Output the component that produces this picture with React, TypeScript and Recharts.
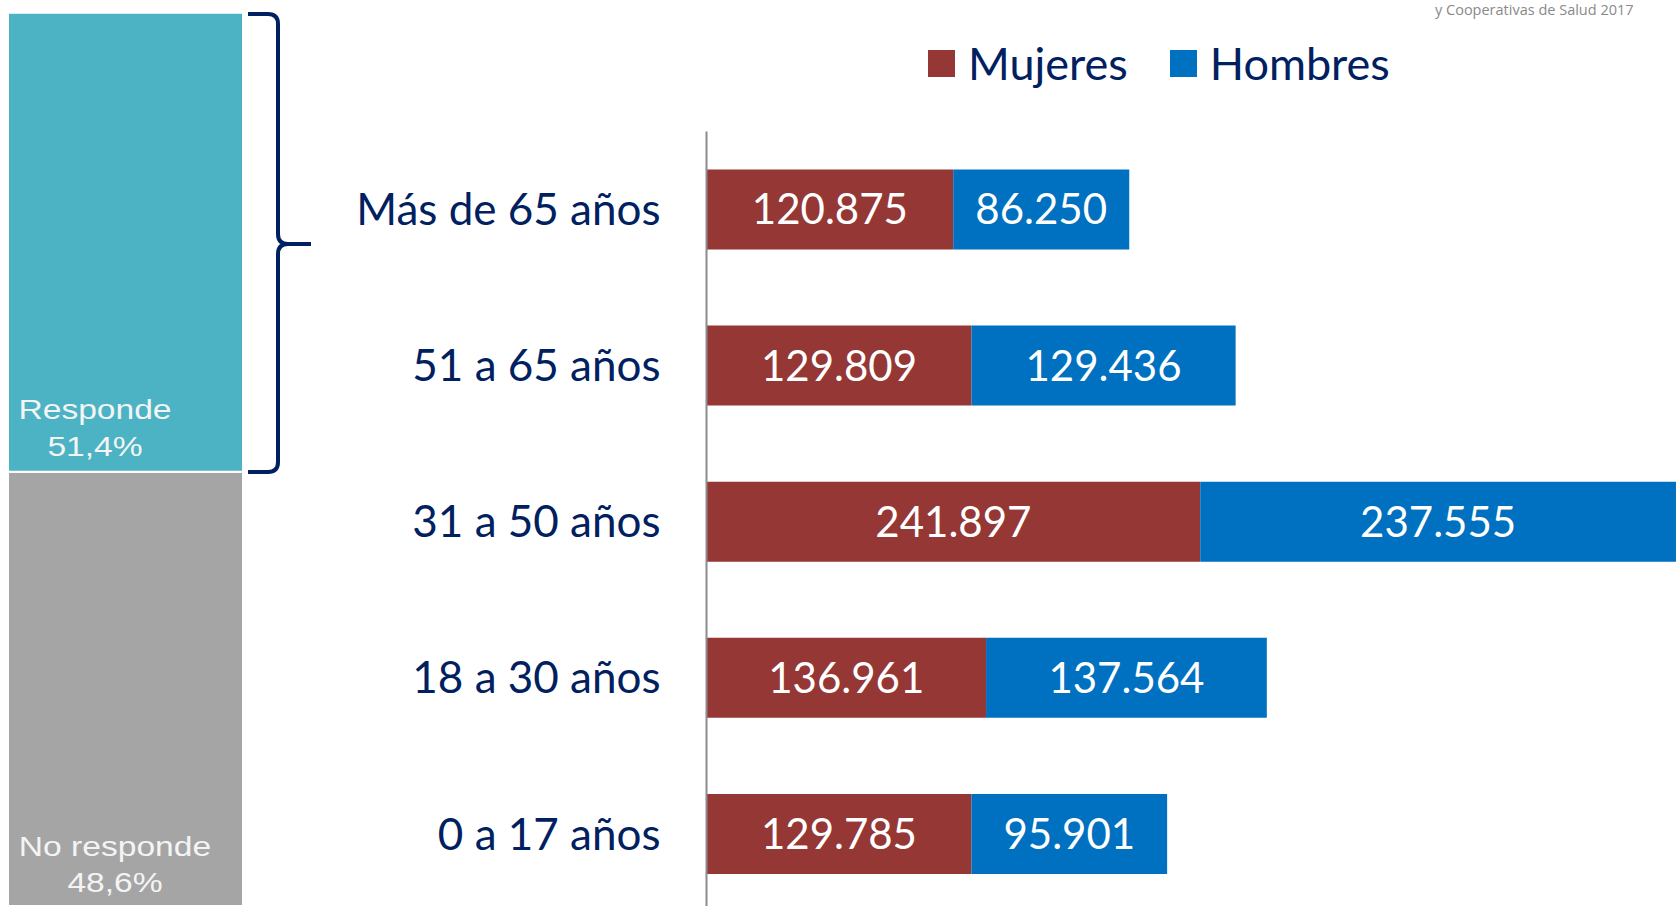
import React from 'react';
import { BarChart, Bar, XAxis, YAxis, LabelList, Legend } from 'recharts';

// ---- data ----
const AGE_GROUPS = ['Más de 65 años', '51 a 65 años', '31 a 50 años', '18 a 30 años', '0 a 17 años'];
const MUJERES = [120875, 129809, 241897, 136961, 129785];
const HOMBRES = [86250, 129436, 237555, 137564, 95901];
const SERIES_NAMES = ['Mujeres', 'Hombres'];
const RESPONSE_LABELS = ['Responde', 'No responde'];
const RESPONSE_SHARE = [51.4, 48.6];
const CAPTION = 'y Cooperativas de Salud 2017';

// ---- style ----
const NAVY = '#002060';
const RED = '#953735';
const BLUE = '#0070C0';
const TEAL = '#4BB3C3';
const GRAY = '#A5A5A5';
const FONT = 'Lato, "Open Sans", sans-serif';
const X_MAX = 475000;

const rows = AGE_GROUPS.map((age, i) => ({ age, mujeres: MUJERES[i], hombres: HOMBRES[i] }));
const leftRows = [{ name: 'total', responde: RESPONSE_SHARE[0], noResponde: RESPONSE_SHARE[1] }];

const fmt = (v: any) => String(v).replace(/\B(?=(\d{3})+(?!\d))/g, '.');
const pct = (v: number) => String(v).replace('.', ',') + '%';

const makeStackLabel = (title: string, share: number, dxCenter: number, b1: number, b2: number) => (props: any) => {
  const { x, y, height } = props;
  const bottom = Number(y) + Number(height);
  const cx = Number(x) + dxCenter;
  return (
    <g transform={`translate(${cx},0) scale(1.2,1)`}>
      <text x={0} y={bottom - b1} textAnchor="middle" fill="#f4f4f4" fontSize={28} fontFamily='"Liberation Sans", Arial, sans-serif'>
        {title}
      </text>
      <text x={0} y={bottom - b2} textAnchor="middle" fill="#f4f4f4" fontSize={28} fontFamily='"Liberation Sans", Arial, sans-serif'>
        {pct(share)}
      </text>
    </g>
  );
};

const LegendContent = (props: any) => {
  const payload = [...(props.payload || [])].sort(
    (a: any, b: any) => SERIES_NAMES.indexOf(a.value) - SERIES_NAMES.indexOf(b.value)
  );
  return (
    <div style={{ display: 'flex', alignItems: 'center', fontFamily: FONT, fontSize: 45, color: NAVY, lineHeight: '54px', whiteSpace: 'nowrap' }}>
      {payload.map((p: any, i: number) => (
        <div key={i} style={{ display: 'flex', alignItems: 'center', marginRight: i === 0 ? 42 : 0 }}>
          <span style={{ display: 'inline-block', width: 27, height: 27, background: p.color, marginRight: 13 }} />
          <span>{p.value}</span>
        </div>
      ))}
    </div>
  );
};

export default function App() {
  return (
    <div style={{ position: 'absolute', left: 0, top: 0, width: 1676, height: 906, overflow: 'hidden', background: '#fff' }}>
      <div style={{ position: 'absolute', left: 0, top: 0 }}>
        <BarChart width={330} height={906} data={leftRows} margin={{ top: 12.7, right: 87, bottom: 0, left: 8 }} barCategoryGap={0}>
          <XAxis dataKey="name" hide />
          <YAxis type="number" hide domain={[0, 100]} />
          <Bar dataKey="noResponde" stackId="s" fill={GRAY} stroke="#ffffff" strokeWidth={2} isAnimationActive={false}>
            <LabelList dataKey="noResponde" content={makeStackLabel(RESPONSE_LABELS[1], RESPONSE_SHARE[1], 107, 50, 14)} />
          </Bar>
          <Bar dataKey="responde" stackId="s" fill={TEAL} stroke="#ffffff" strokeWidth={2} isAnimationActive={false}>
            <LabelList dataKey="responde" content={makeStackLabel(RESPONSE_LABELS[0], RESPONSE_SHARE[0], 87, 53, 16)} />
          </Bar>
        </BarChart>
      </div>
      <svg style={{ position: 'absolute', left: 0, top: 0 }} width={330} height={906}>
        <path
          d="M248,14 L268,14 Q278,14 278,24 L278,234 Q278,244 288,244 L311,244 M288,244 Q278,244 278,254 L278,462 Q278,472 268,472 L248,472"
          fill="none"
          stroke={NAVY}
          strokeWidth={4}
        />
      </svg>
      <div style={{ position: 'absolute', left: 330, top: 0 }}>
        <BarChart width={1346} height={912} data={rows} layout="vertical" margin={{ top: 131.5, right: 0, bottom: 0, left: 0 }}>
          <XAxis type="number" hide domain={[0, X_MAX]} allowDataOverflow />
          <YAxis
            type="category"
            dataKey="age"
            width={376.5}
            tickLine={false}
            tickSize={0}
            tickMargin={46}
            axisLine={{ stroke: '#8c8c8c', strokeWidth: 2 }}
            tick={{ fill: NAVY, fontSize: 44, fontFamily: FONT }}
          />
          <Legend
            layout="horizontal"
            verticalAlign="middle"
            align="center"
            content={LegendContent}
            wrapperStyle={{ left: 598, top: 36, width: 'auto' }}
          />
          <Bar dataKey="mujeres" name={SERIES_NAMES[0]} stackId="a" fill={RED} barSize={80} isAnimationActive={false}>
            <LabelList dataKey="mujeres" position="center" fill="#ffffff" fontSize={42} fontFamily={FONT} formatter={fmt} />
          </Bar>
          <Bar dataKey="hombres" name={SERIES_NAMES[1]} stackId="a" fill={BLUE} barSize={80} isAnimationActive={false}>
            <LabelList dataKey="hombres" position="center" fill="#ffffff" fontSize={42} fontFamily={FONT} formatter={fmt} />
          </Bar>
        </BarChart>
      </div>
      <div style={{ position: 'absolute', left: 1435, top: 1, fontFamily: '"Open Sans", sans-serif', fontSize: 14.5, lineHeight: '17px', color: '#8a8a8a', whiteSpace: 'nowrap' }}>
        {CAPTION}
      </div>
    </div>
  );
}
